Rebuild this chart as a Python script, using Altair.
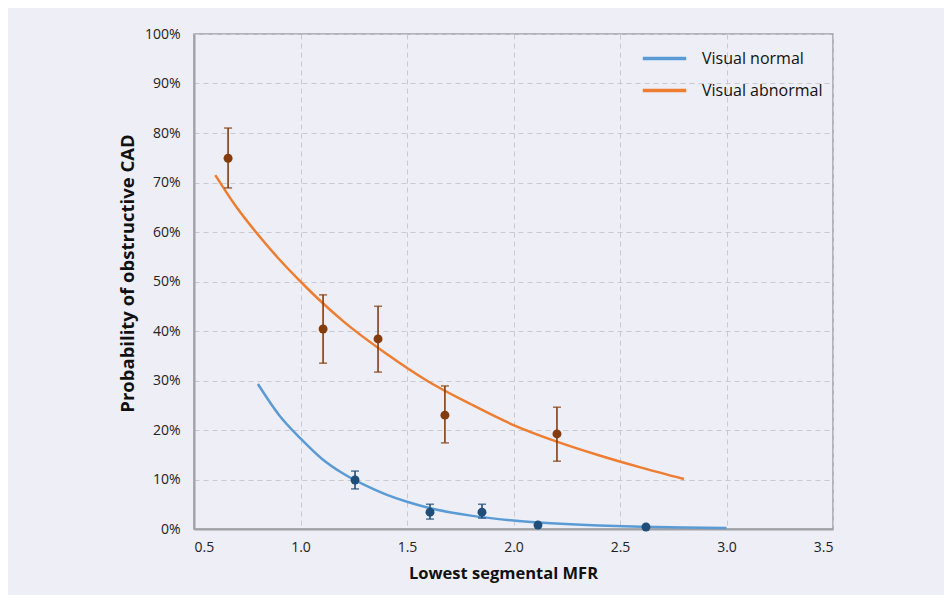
import altair as alt
import pandas as pd

# Fitted probability curves (lowest segmental MFR -> probability)
normal_curve_x = [0.8, 0.9, 1.0, 1.1, 1.2, 1.3, 1.4, 1.5, 1.6, 1.8, 2.0, 2.2, 2.4, 2.6, 2.8, 3.0]
normal_curve_y = [0.293, 0.23, 0.183, 0.142, 0.112, 0.089, 0.070, 0.055, 0.043, 0.027, 0.017, 0.011, 0.007, 0.0045, 0.003, 0.002]

abnormal_curve_x = [0.6, 0.7, 0.8, 0.9, 1.0, 1.1, 1.2, 1.4, 1.6, 1.8, 2.0, 2.2, 2.4, 2.6, 2.8]
abnormal_curve_y = [0.715, 0.65, 0.595, 0.545, 0.50, 0.458, 0.42, 0.355, 0.298, 0.252, 0.21, 0.177, 0.149, 0.124, 0.101]

# Observed rates with confidence intervals
normal_obs_x = [1.256, 1.608, 1.852, 2.115, 2.622]
normal_obs_y = [0.099, 0.034, 0.034, 0.008, 0.004]
normal_obs_lo = [0.081, 0.020, 0.022, None, None]
normal_obs_hi = [0.117, 0.050, 0.050, None, None]

abnormal_obs_x = [0.66, 1.106, 1.364, 1.678, 2.204]
abnormal_obs_y = [0.749, 0.404, 0.384, 0.230, 0.192]
abnormal_obs_lo = [0.689, 0.335, 0.317, 0.174, 0.137]
abnormal_obs_hi = [0.810, 0.473, 0.450, 0.289, 0.246]

series = ["Visual normal", "Visual abnormal"]
line_colors = ["#5b9bd5", "#ed7d31"]
point_colors = {"Visual normal": "#1f4e79", "Visual abnormal": "#843c0c"}

curves = pd.concat([
    pd.DataFrame({"mfr": normal_curve_x, "p": normal_curve_y, "group": series[0]}),
    pd.DataFrame({"mfr": abnormal_curve_x, "p": abnormal_curve_y, "group": series[1]}),
])
obs = pd.concat([
    pd.DataFrame({"mfr": normal_obs_x, "p": normal_obs_y, "lo": normal_obs_lo,
                  "hi": normal_obs_hi, "group": series[0]}),
    pd.DataFrame({"mfr": abnormal_obs_x, "p": abnormal_obs_y, "lo": abnormal_obs_lo,
                  "hi": abnormal_obs_hi, "group": series[1]}),
])
bars = obs.dropna(subset=["lo", "hi"])

W, H = 639, 495
FONT = "Open Sans"
PANEL = "#eeeef6"

x_scale = alt.Scale(domain=[0.5, 3.5], nice=False, zero=False)
y_scale = alt.Scale(domain=[0, 1], nice=False)

x_axis = alt.Axis(values=[0.5, 1.0, 1.5, 2.0, 2.5, 3.0, 3.5], format=".1f",
                  title="Lowest segmental MFR", grid=True, tickSize=0,
                  labelPadding=11, titlePadding=11, titleX=309)
y_axis = alt.Axis(values=[i / 10 for i in range(11)], format=".0%",
                  title="Probability of obstructive CAD", grid=True, tickSize=0,
                  labelPadding=14, titlePadding=7, titleY=239)

# Thin white margin strips along the top and left edges of the page
edges = pd.DataFrame({"k": [0]})
left_strip = alt.Chart(edges).mark_rect(color="white").encode(
    x=alt.value(-194), x2=alt.value(-186), y=alt.value(-34), y2=alt.value(H + 66),
)
top_strip = alt.Chart(edges).mark_rect(color="white").encode(
    x=alt.value(-194), x2=alt.value(W + 111), y=alt.value(-34), y2=alt.value(-26),
)

lines = alt.Chart(curves).mark_line(strokeWidth=2.5, interpolate="monotone").encode(
    x=alt.X("mfr:Q", scale=x_scale, axis=x_axis),
    y=alt.Y("p:Q", scale=y_scale, axis=y_axis),
    color=alt.Color("group:N", scale=alt.Scale(domain=series, range=line_colors),
                    legend=alt.Legend(title=None, orient="none", legendX=453, legendY=7,
                                      symbolType="M-1.4,0H1.4", symbolSize=961,
                                      symbolStrokeWidth=3.5, labelFontSize=16,
                                      labelFont=FONT, labelColor="#111",
                                      labelOffset=20, rowPadding=6)),
    detail="group:N",
)

pt_scale = alt.Scale(domain=series, range=[point_colors[s] for s in series])

rules = alt.Chart(bars).mark_rule(strokeWidth=1.6).encode(
    x="mfr:Q", y="lo:Q", y2="hi:Q",
    color=alt.Color("group:N", scale=pt_scale, legend=None),
)
caps_lo = alt.Chart(bars).mark_tick(orient="horizontal", size=8, thickness=1.6).encode(
    x="mfr:Q", y="lo:Q", color=alt.Color("group:N", scale=pt_scale, legend=None),
)
caps_hi = alt.Chart(bars).mark_tick(orient="horizontal", size=8, thickness=1.6).encode(
    x="mfr:Q", y="hi:Q", color=alt.Color("group:N", scale=pt_scale, legend=None),
)
points = alt.Chart(obs).mark_circle(size=80, opacity=1).encode(
    x="mfr:Q", y="p:Q",
    color=alt.Color("group:N", scale=pt_scale, legend=None),
)

chart = alt.layer(lines, rules, caps_lo, caps_hi, points, left_strip, top_strip).resolve_scale(
    color="independent"
).properties(
    width=W, height=H,
    autosize=alt.AutoSizeParams(type="none"),
    padding={"left": 194, "top": 34, "right": 111, "bottom": 66},
    background=PANEL,
).configure_view(
    stroke="#a0a0a6", strokeWidth=1.5,
).configure_axis(
    labelFont=FONT, labelFontSize=14, labelColor="#222",
    titleFont=FONT, titleColor="#111", titleFontWeight="bold",
    gridColor="#c9c9cf", gridDash=[5, 4], gridWidth=1,
    domainColor="#a0a0a6", domainWidth=2,
).configure_axisY(
    titleFontSize=18.5,
).configure_axisX(
    titleFontSize=16.5,
)

chart.save("out.html", embed_options={"renderer": "svg", "actions": False})
